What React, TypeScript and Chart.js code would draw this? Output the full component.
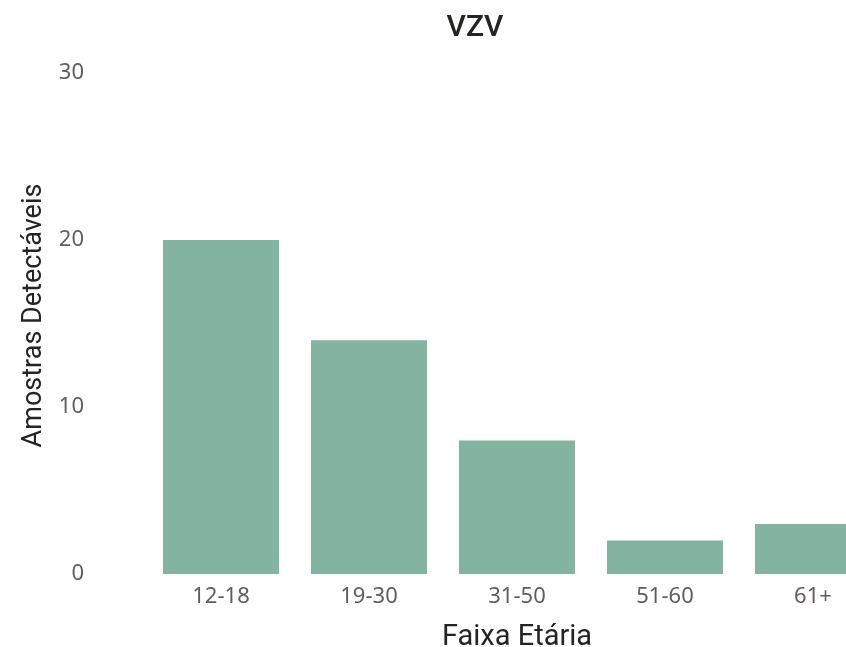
import React, { useEffect, useRef } from "react";
import { Chart, registerables } from "chart.js";

Chart.register(...registerables);

const categories = ["12-18", "19-30", "31-50", "51-60", "61+"];
const values = [20, 14, 8, 2, 3];
const yTicks = [0, 10, 20, 30];
const chartTitle = "VZV";
const xTitle = "Faixa Etária";
const yTitle = "Amostras Detectáveis";

const titlesPlugin = {
  id: "titlesPlugin",
  afterDraw(chart: any) {
    const { ctx, chartArea } = chart;
    ctx.save();
    ctx.fillStyle = "#252423";
    ctx.textAlign = "center";
    ctx.textBaseline = "middle";
    ctx.font = "500 30px Roboto";
    ctx.fillText(chartTitle, 475, 28);
    ctx.font = "27px Roboto";
    ctx.translate(34, (chartArea.top + chartArea.bottom) / 2 - 8);
    ctx.rotate(-Math.PI / 2);
    ctx.fillText(yTitle, 0, 0);
    ctx.restore();
  },
};

export default function App() {
  const ref = useRef<HTMLCanvasElement>(null);
  useEffect(() => {
    if (!ref.current) return;
    const chart = new Chart(ref.current, {
      type: "bar",
      data: {
        labels: categories,
        datasets: [
          {
            data: values,
            backgroundColor: "#82b4a1",
            categoryPercentage: 1,
            barPercentage: 0.784,
          },
        ],
      },
      plugins: [titlesPlugin],
      options: {
        animation: false,
        responsive: true,
        maintainAspectRatio: false,
        layout: { padding: { left: 0, right: 63, top: 73, bottom: 0 } },
        plugins: {
          legend: { display: false },
          tooltip: { enabled: false },
          title: { display: false },
        },
        scales: {
          x: {
            grid: { display: false, drawTicks: false },
            border: { display: false },
            ticks: {
              color: "#605E5C",
              font: { family: "Noto Sans", size: 22 },
              padding: 10,
              maxRotation: 0,
            },
            title: {
              display: true,
              text: xTitle,
              color: "#252423",
              font: { family: "Roboto", size: 29, lineHeight: 0.5 },
              padding: { top: 0, bottom: 2 },
            },
            afterFit(scale: any) {
              scale.height = 73;
              scale.paddingLeft = 0;
              scale.paddingRight = 0;
            },
          },
          y: {
            min: 0,
            max: 30,
            afterBuildTicks(scale: any) {
              scale.ticks = yTicks.map((v) => ({ value: v }));
            },
            grid: { display: false, drawTicks: false },
            border: { display: false },
            ticks: {
              color: "#605E5C",
              font: { family: "Noto Sans", size: 22 },
              padding: 63,
            },
            afterFit(scale: any) {
              scale.width = 147;
              scale.paddingTop = 0;
              scale.paddingBottom = 0;
            },
          },
        },
      },
    });
    return () => chart.destroy();
  }, []);
  return (
    <div
      style={{
        position: "fixed",
        left: 0,
        top: 0,
        width: 846,
        height: 647,
        overflow: "hidden",
        background: "#fff",
      }}
    >
      <div style={{ position: "absolute", left: 0, top: 0, width: 950, height: 647 }}>
        <canvas ref={ref} />
      </div>
    </div>
  );
}
